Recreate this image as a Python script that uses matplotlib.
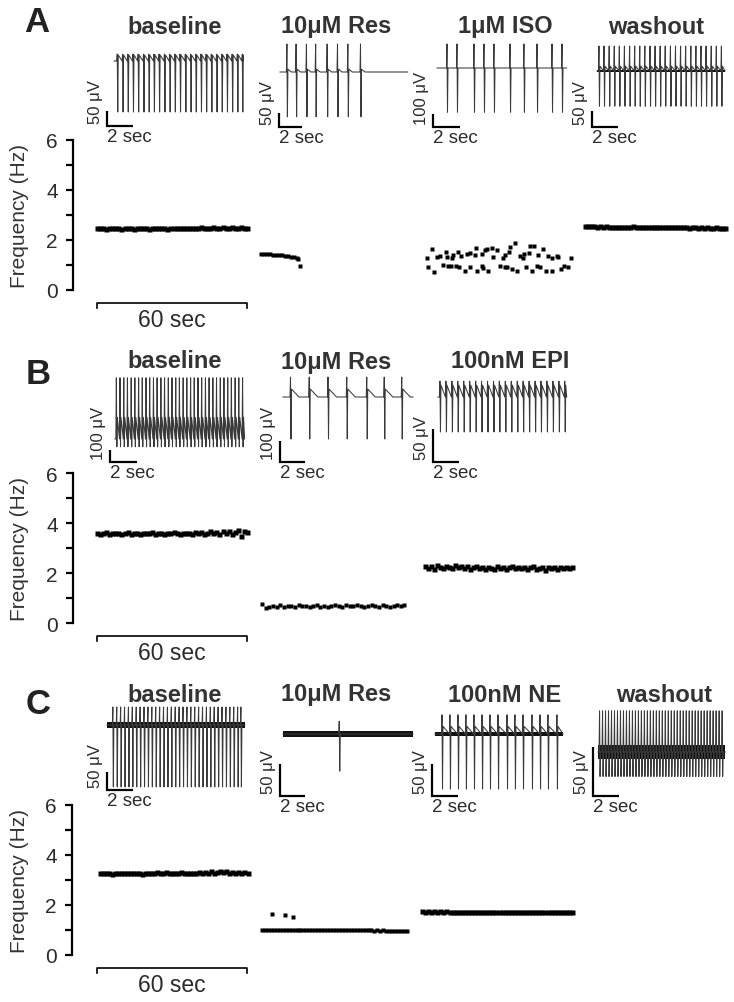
import numpy as np
import matplotlib
matplotlib.use('Agg')
import matplotlib.pyplot as plt

W, H = 734, 1003
plt.rcParams['font.family'] = ['Liberation Sans', 'DejaVu Sans']

# ---------------- frequency data (Hz) ----------------
A_base_freq = [2.49, 2.47, 2.48, 2.46, 2.48, 2.47, 2.47, 2.48, 2.46, 2.47, 2.48, 2.47, 2.46, 2.48, 2.47,
               2.47, 2.48, 2.46, 2.47, 2.48, 2.47, 2.48, 2.47, 2.46, 2.48, 2.49, 2.47, 2.48, 2.47, 2.50,
               2.48, 2.47, 2.49, 2.48, 2.51, 2.49, 2.50, 2.48, 2.51, 2.49, 2.50, 2.52, 2.49, 2.50, 2.51,
               2.48, 2.50, 2.51, 2.49, 2.50]
A_res_t = [0.5, 1.7, 2.9, 4.1, 5.3, 6.5, 7.7, 8.9, 10.1, 11.3, 12.5, 13.7, 14.6, 15.3, 16.0]
A_res_freq = [1.45, 1.44, 1.44, 1.43, 1.42, 1.42, 1.41, 1.40, 1.38, 1.36, 1.34, 1.31, 1.28, 1.25, 0.97]
A_iso_t = [2.7, 0.7, 4.7, 6.0, 8.4, 8.9, 10.7, 11.1, 13.3, 14.3, 16.7, 18.0, 20.0, 20.4, 22.7, 24.0,
           24.9, 26.7, 27.3, 28.9, 31.1, 32.0, 34.0, 33.7, 36.0, 38.0, 39.1, 39.6, 42.0, 41.7, 43.6,
           45.3, 47.3, 49.3, 50.7, 52.7, 53.3, 58.3,
           1.3, 3.7, 7.3, 9.3, 10.3, 12.4, 13.7, 16.0, 18.0, 20.7, 22.7, 23.3, 25.3, 30.0, 32.0, 32.7,
           34.7, 36.7, 40.4, 42.7, 44.7, 46.0, 48.4, 50.7, 54.3, 55.6, 57.3]
A_iso_freq = [1.64, 1.27, 1.33, 1.37, 1.53, 1.31, 1.27, 1.40, 1.53, 1.35, 1.44, 1.48, 1.41, 1.68, 1.44,
              1.60, 1.64, 1.68, 1.31, 1.60, 1.27, 1.40, 1.71, 1.51, 1.87, 1.37, 1.27, 1.44, 1.77, 1.48,
              1.75, 1.40, 1.64, 1.35, 1.28, 1.35, 1.31, 1.28,
              0.93, 0.73, 1.00, 0.95, 0.95, 0.97, 0.91, 0.76, 0.91, 0.77, 0.95, 0.87, 0.76, 0.97, 0.91,
              0.91, 0.84, 0.76, 0.91, 0.76, 0.95, 0.91, 0.76, 0.76, 0.84, 0.95, 0.91]
A_wash_freq = [2.56, 2.55, 2.55, 2.56, 2.54, 2.55, 2.54, 2.55, 2.54, 2.53, 2.54, 2.54, 2.53, 2.54, 2.53,
               2.54, 2.55, 2.53, 2.54, 2.53, 2.52, 2.54, 2.53, 2.52, 2.53, 2.52, 2.53, 2.52, 2.52, 2.51,
               2.53, 2.52, 2.51, 2.52, 2.51, 2.50, 2.52, 2.51, 2.50, 2.51, 2.50, 2.51, 2.49, 2.50, 2.51,
               2.49, 2.50, 2.48]

B_base_freq = [3.62, 3.58, 3.60, 3.64, 3.57, 3.61, 3.59, 3.62, 3.58, 3.60, 3.63, 3.57, 3.61, 3.60, 3.58,
               3.62, 3.59, 3.61, 3.64, 3.58, 3.60, 3.62, 3.57, 3.61, 3.59, 3.63, 3.60, 3.58, 3.62, 3.59,
               3.61, 3.57, 3.63, 3.60, 3.66, 3.58, 3.62, 3.69, 3.60, 3.64, 3.56, 3.67, 3.62, 3.70, 3.58,
               3.66, 3.72, 3.48, 3.70, 3.66]
B_res_freq = [0.78, 0.62, 0.66, 0.70, 0.64, 0.72, 0.66, 0.70, 0.68, 0.65, 0.72, 0.67, 0.70, 0.66, 0.68,
              0.71, 0.66, 0.69, 0.64, 0.70, 0.72, 0.68, 0.66, 0.74, 0.70, 0.67, 0.73, 0.69, 0.64, 0.70,
              0.74, 0.68, 0.66, 0.71, 0.69, 0.64, 0.70, 0.73, 0.67, 0.72]
B_epi_freq = [2.30, 2.22, 2.28, 2.18, 2.32, 2.25, 2.20, 2.30, 2.26, 2.19, 2.31, 2.24, 2.28, 2.21, 2.27,
              2.17, 2.25, 2.29, 2.20, 2.24, 2.16, 2.26, 2.22, 2.18, 2.27, 2.21, 2.25, 2.17, 2.23, 2.28,
              2.19, 2.24, 2.20, 2.26, 2.15, 2.23, 2.27, 2.18, 2.22, 2.25, 2.14, 2.24, 2.20, 2.26, 2.17,
              2.23, 2.19, 2.25, 2.21, 2.24]

C_base_freq = [3.28, 3.27, 3.29, 3.28, 3.26, 3.28, 3.27, 3.29, 3.28, 3.27, 3.28, 3.29, 3.27, 3.28, 3.26,
               3.28, 3.29, 3.27, 3.28, 3.31, 3.29, 3.27, 3.32, 3.28, 3.30, 3.27, 3.29, 3.33, 3.28, 3.30,
               3.27, 3.29, 3.28, 3.31, 3.28, 3.33, 3.29, 3.35, 3.30, 3.34, 3.36, 3.31, 3.35, 3.30, 3.34,
               3.29, 3.33, 3.30, 3.32, 3.29]
C_res_freq = [1.00, 1.01, 0.99, 1.00, 1.01, 1.00, 0.99, 1.00, 1.01, 1.00, 1.00, 0.99, 1.01, 1.00, 1.00,
              1.01, 0.99, 1.00, 1.00, 1.01, 1.00, 0.99, 1.00, 1.01, 1.00, 1.00, 0.99, 1.00, 1.01, 1.00,
              0.99, 1.00, 1.00, 0.99, 1.00, 0.99, 1.00, 0.99, 0.98, 0.99, 0.98, 0.99, 0.98, 0.97, 0.98,
              0.97, 0.98, 0.97, 0.96, 0.97]
C_res_out_t = [4.0, 9.2, 12.4]
C_res_out_freq = [1.64, 1.60, 1.52]
C_ne_freq = [1.75, 1.73, 1.76, 1.72, 1.75, 1.74, 1.76, 1.73, 1.75, 1.72, 1.74, 1.73, 1.74, 1.73, 1.73,
             1.74, 1.73, 1.73, 1.74, 1.73, 1.73, 1.73, 1.74, 1.73, 1.73, 1.73, 1.72, 1.73, 1.73, 1.73,
             1.72, 1.73, 1.73, 1.72, 1.73, 1.73, 1.72, 1.73, 1.72, 1.73, 1.72, 1.71, 1.72, 1.73, 1.72,
             1.72, 1.71, 1.72, 1.72, 1.73]

# recording durations (sec) of the evenly sampled segments
A_base_dur, A_wash_dur = 60, 56
B_base_dur, B_res_dur, B_epi_dur = 60, 57, 59
C_base_dur, C_res_dur, C_ne_dur = 59, 58, 60

# ---------------- example traces: spike times (sec) ----------------
A_base_spikes = [0.25, 0.66, 1.06, 1.46, 1.86, 2.27, 2.67, 3.07, 3.47, 3.88, 4.28, 4.68, 5.08, 5.49,
                 5.89, 6.29, 6.69, 7.09, 7.49, 7.89, 8.29, 8.69, 9.09, 9.49, 9.87]
A_res_spikes = [0.6, 1.4, 2.3, 3.1, 4.1, 5.0, 5.9, 7.0]
A_iso_spikes = [0.74, 1.48, 2.74, 3.48, 4.22, 5.41, 6.44, 7.41, 8.52, 9.26]
A_wash_spikes = [0.15, 0.54, 0.94, 1.33, 1.72, 2.11, 2.51, 2.90, 3.29, 3.68, 4.08, 4.47, 4.86, 5.25,
                 5.65, 6.04, 6.43, 6.82, 7.22, 7.61, 8.00, 8.39, 8.79, 9.18, 9.57]
B_base_spikes = [0.10, 0.37, 0.65, 0.92, 1.20, 1.47, 1.75, 2.02, 2.30, 2.57, 2.85, 3.12, 3.40, 3.67,
                 3.95, 4.22, 4.50, 4.77, 5.05, 5.32, 5.60, 5.87, 6.15, 6.42, 6.70, 6.97, 7.25, 7.52,
                 7.80, 8.07, 8.35, 8.62, 8.90, 9.17, 9.45]
B_res_spikes = [0.6, 2.1, 3.6, 5.1, 6.7, 8.1, 9.5]
B_epi_spikes = [0.15, 0.61, 1.07, 1.52, 1.98, 2.44, 2.90, 3.35, 3.81, 4.27, 4.72, 5.18, 5.64, 6.10,
                6.55, 7.01, 7.47, 7.92, 8.38, 8.84, 9.30, 9.75]
C_base_spikes = [0.45, 0.75, 1.05, 1.35, 1.65, 1.95, 2.25, 2.55, 2.85, 3.15, 3.45, 3.75, 4.05, 4.35,
                 4.65, 4.95, 5.25, 5.55, 5.85, 6.15, 6.45, 6.75, 7.05, 7.35, 7.65, 7.95, 8.25, 8.55,
                 8.85, 9.15, 9.45, 9.75, 10.05, 10.30]
C_res_spikes = [4.5]
C_ne_spikes = [0.54, 1.15, 1.77, 2.38, 3.00, 3.62, 4.23, 4.85, 5.54, 6.15, 6.77, 7.46, 8.08, 8.69, 9.38]
C_wash_spikes = [0.12, 0.35, 0.58, 0.81, 1.04, 1.27, 1.50, 1.73, 1.96, 2.19, 2.42, 2.65, 2.88, 3.11,
                 3.34, 3.57, 3.80, 4.03, 4.26, 4.49, 4.72, 4.95, 5.18, 5.41, 5.64, 5.87, 6.10, 6.33,
                 6.56, 6.79, 7.02, 7.25, 7.48, 7.71, 7.94, 8.17, 8.40, 8.63, 8.86, 9.09, 9.32, 9.55]

# trace amplitudes (uV): spike peak, spike trough, after-spike level, decay (s), noise half-width
A_base_amp = (23, 170, 20, None, 0)
A_res_amp = (100, 160, 10, 0.3, 0)
A_iso_amp = (185, 340, 0, None, 0)
A_wash_amp = (78, 110, 15, None, 4)
B_base_amp = (510, 65, 180, None, 0)
B_res_amp = (95, 200, 38, 0.6, 0)
B_epi_amp = (24, 53, 18, None, 0)
C_base_amp = (50, 172, 0, None, 8)
C_res_amp = (20, 58, 0, None, 5)
C_ne_amp = (30, 86, 12, None, 3)
C_wash_amp = (42, 25, 0, None, 7)

# trace durations (s) and scale bar values (uV)
A_trace_dur = [9.9, 11.1, 9.6, 9.85]
B_trace_dur = [9.6, 10.4, 9.9]
C_trace_dur = [10.6, 10.4, 9.85, 9.8]
A_bar_uv = [50, 50, 100, 50]
B_bar_uv = [100, 100, 50]
C_bar_uv = [50, 50, 50, 50]

A_titles = ['baseline', '10μM Res', '1μM ISO', 'washout']
B_titles = ['baseline', '10μM Res', '100nM EPI']
C_titles = ['baseline', '10μM Res', '100nM NE', 'washout']


def fx(px):
    return px / W


def fy(py):
    return 1 - py / H


# trace layout in pixels: start x, baseline y, px per sec, bar height px, bar corner
A_lay = [(114, 62, 13.0, 15, (107, 127)), (280, 73, 11.5, 14, (279, 128)),
         (437, 69, 13.5, 13, (433, 128)), (597, 72, 13.0, 16, (592, 128))]
B_lay = [(115, 440, 13.5, 12, (110, 463)), (283, 398, 12.5, 21, (280, 463)),
         (438, 398, 13.0, 33, (433, 463))]
C_lay = [(107, 726, 13.0, 18, (107, 791)), (283, 735, 12.5, 32, (280, 797)),
         (435, 735, 13.0, 32, (432, 797)), (598, 753, 13.0, 49, (593, 797))]

TXT = '#2b2b2b'


def draw_trace(fig, lay, spikes, amp, dur, bar_uv):
    x0, base, pps, bar_px, (cx, cy) = lay
    ppu = bar_px / bar_uv
    ax = fig.add_axes([0, 0, 1, 1])
    ax.set_axis_off()
    ax.set_xlim(-x0 / pps, (W - x0) / pps)
    ax.set_ylim((base - H) / ppu, base / ppu)
    up, down, after, decay, noise = amp
    w = 0.5 / pps
    xs, ys = [0.0], [0.0]
    for t in spikes:
        xs += [t - w, t, t + w, t + 2 * w]
        ys += [0, up, -down, after]
        if decay:
            xs.append(t + 2 * w + decay)
            ys.append(0)
    xs.append(dur)
    ys.append(0)
    if noise:
        ax.fill_between([0, dur], -noise, noise, color='#111111', lw=0)
    ax.plot(xs, ys, color='#3a3a3a', lw=0.75)
    bx = (cx - x0) / pps
    by = (base - cy) / ppu
    ax.plot([bx, bx, bx + 2], [by + bar_uv, by, by], color='black', lw=1.6,
            solid_joinstyle='miter', solid_capstyle='butt')
    ax.text(bx, by - 2 / ppu, '2 sec', ha='left', va='top', fontsize=13.5, color=TXT)
    ax.text(bx - 4 / pps, by + 3 / ppu, f'{bar_uv} μV', rotation=90, ha='right', va='bottom',
            fontsize=12, color=TXT)


def freq_axes(fig, top_px, zero_px, left_px=73):
    ax = fig.add_axes([fx(left_px), fy(zero_px), 1 - fx(left_px), (zero_px - top_px) / H])
    ax.set_facecolor('none')
    # x: 2.5 px per second, baseline segment starts at 97 px
    ax.set_xlim((left_px - 97) / 2.5, (W - 97) / 2.5)
    ax.set_ylim(0, 6)
    for s in ['top', 'right', 'bottom']:
        ax.spines[s].set_visible(False)
    ax.spines['left'].set_linewidth(1.6)
    ax.set_xticks([])
    ax.set_yticks(range(7))
    ax.set_yticklabels(['0', '', '2', '', '4', '', '6'])
    ax.tick_params(axis='y', length=5, width=1.6, labelsize=15, pad=6, labelcolor=TXT)
    # 60 sec bar
    ax.plot([0, 0, 60, 60], [-0.72, -0.52, -0.52, -0.72], color='black', lw=1.2, clip_on=False)
    ax.text(30, -0.72, '60 sec', ha='center', va='top', fontsize=16.5, color=TXT)
    fig.text(fx(20), fy((top_px + zero_px) / 2), 'Frequency (Hz)', rotation=90,
             ha='center', va='center', fontsize=15, color='#333333')
    return ax


def dots(ax, t, f, offset, ms):
    ax.plot(np.asarray(t) + offset, f, 's', ms=ms, color='black', mec='none', clip_on=False)


fig = plt.figure(figsize=(W / 100, H / 100), dpi=100)

# ---- row A ----
axA = freq_axes(fig, 141, 291)
dots(axA, np.linspace(0, A_base_dur, len(A_base_freq)), A_base_freq, 0, 3.6)
dots(axA, A_res_t, A_res_freq, 65.2, 3.0)
dots(axA, A_iso_t, A_iso_freq, 131.2, 2.6)
dots(axA, np.linspace(0, A_wash_dur, len(A_wash_freq)), A_wash_freq, 195.2, 3.6)

# ---- row B ----
axB = freq_axes(fig, 474, 624)
dots(axB, np.linspace(0, B_base_dur, len(B_base_freq)), B_base_freq, 0, 3.6)
dots(axB, np.linspace(0, B_res_dur, len(B_res_freq)), B_res_freq, 66, 2.6)
dots(axB, np.linspace(0, B_epi_dur, len(B_epi_freq)), B_epi_freq, 131.2, 3.6)

# ---- row C ----
axC = freq_axes(fig, 806, 956, left_px=72)
dots(axC, np.linspace(0, C_base_dur, len(C_base_freq)), C_base_freq, 1.2, 3.6)
dots(axC, np.linspace(0, C_res_dur, len(C_res_freq)), C_res_freq, 66, 3.2)
dots(axC, C_res_out_t, C_res_out_freq, 66, 2.6)
dots(axC, np.linspace(0, C_ne_dur, len(C_ne_freq)), C_ne_freq, 130, 3.6)

# ---- traces ----
rows = [
    (A_lay, [A_base_spikes, A_res_spikes, A_iso_spikes, A_wash_spikes],
     [A_base_amp, A_res_amp, A_iso_amp, A_wash_amp], A_trace_dur, A_bar_uv),
    (B_lay, [B_base_spikes, B_res_spikes, B_epi_spikes],
     [B_base_amp, B_res_amp, B_epi_amp], B_trace_dur, B_bar_uv),
    (C_lay, [C_base_spikes, C_res_spikes, C_ne_spikes, C_wash_spikes],
     [C_base_amp, C_res_amp, C_ne_amp, C_wash_amp], C_trace_dur, C_bar_uv),
]
for lay, spk, amp, dur, bar in rows:
    for i in range(len(lay)):
        draw_trace(fig, lay[i], spk[i], amp[i], dur[i], bar[i])

# ---- titles and panel letters ----
title_x = {'A': [175, 336, 505, 656], 'B': [175, 336, 510], 'C': [175, 336, 505, 664]}
title_y = {'A': 27, 'B': 362, 'C': 695}
for key, titles in zip('ABC', [A_titles, B_titles, C_titles]):
    for x, t in zip(title_x[key], titles):
        fig.text(fx(x), fy(title_y[key]), t, ha='center', va='center', fontsize=17,
                 fontweight='bold', color='#333333')
for key, (x, y) in zip('ABC', [(37, 22), (38, 374), (38, 705)]):
    fig.text(fx(x), fy(y), key, ha='center', va='center', fontsize=25, fontweight='bold',
             color='#222222')

fig.savefig('out.png', dpi=100, facecolor='white')
